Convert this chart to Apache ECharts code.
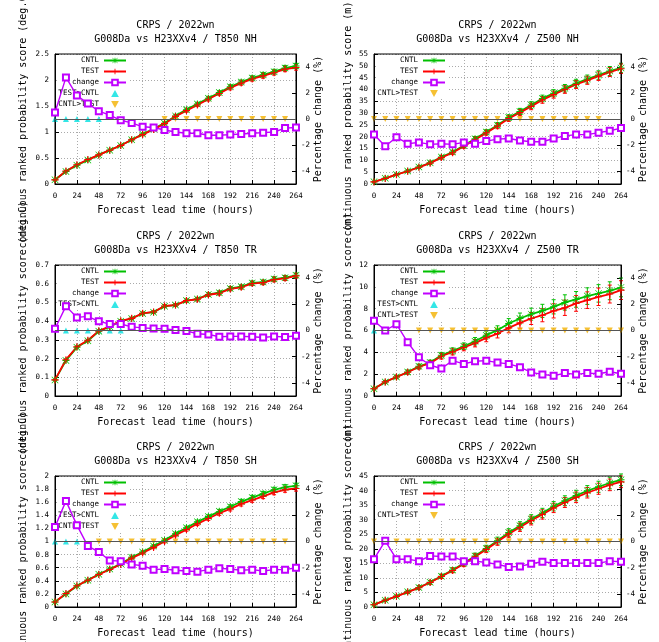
<!DOCTYPE html>
<html>
<head>
<meta charset="utf-8">
<script src="https://cdn.jsdelivr.net/npm/echarts@6/dist/echarts.min.js"></script>
<style>
html,body{margin:0;padding:0;background:#fff;}
#main{width:659px;height:642px;}
</style>
</head>
<body>
<div id="main"></div>
<script>
// forecast lead times (hours)
var lead = [0,12,24,36,48,60,72,84,96,108,120,132,144,156,168,180,192,204,216,228,240,252,264];

// T850 NH
var t850nhCntl = [0.08,0.24,0.36,0.46,0.56,0.65,0.74,0.85,0.96,1.06,1.17,1.31,1.43,1.54,1.65,1.76,1.87,1.96,2.04,2.10,2.16,2.23,2.27];
var t850nhTest = [0.08,0.25,0.37,0.47,0.56,0.65,0.74,0.85,0.95,1.05,1.16,1.30,1.41,1.52,1.63,1.74,1.85,1.94,2.02,2.08,2.14,2.21,2.24];
var t850nhChange = [0.5,3.2,1.8,1.2,0.6,0.3,-0.1,-0.3,-0.6,-0.65,-0.85,-1.0,-1.1,-1.1,-1.25,-1.25,-1.2,-1.15,-1.1,-1.05,-1.0,-0.7,-0.65];
var t850nhErr = [0.005,0.01,0.01,0.012,0.015,0.015,0.02,0.02,0.022,0.025,0.025,0.03,0.03,0.032,0.035,0.035,0.04,0.04,0.042,0.045,0.045,0.05,0.05];
var t850nhUp = [0,12,24,36,48];
var t850nhDown = [120,132,144,156,168,180,192,204,216,228,240,252];

// Z500 NH
var z500nhCntl = [0.9,2.4,4.0,5.5,7.2,9.0,11.4,13.5,16.3,19.1,22.0,24.9,28.1,30.7,33.4,36.2,38.4,40.5,42.6,44.4,46.1,47.8,49.1];
var z500nhTest = [0.89,2.35,3.94,5.40,7.07,8.83,11.18,13.24,16.01,18.74,21.63,24.51,27.68,30.21,32.83,35.58,37.82,39.97,42.09,43.87,45.62,47.37,48.76];
var z500nhChange = [-1.2,-2.1,-1.4,-1.9,-1.8,-1.95,-1.9,-1.95,-1.8,-1.9,-1.7,-1.55,-1.5,-1.65,-1.75,-1.75,-1.5,-1.3,-1.2,-1.2,-1.05,-0.9,-0.7];
var z500nhErr = [0.2,0.3,0.4,0.5,0.5,0.6,0.7,0.8,0.9,1.0,1.0,1.1,1.2,1.3,1.4,1.4,1.5,1.6,1.7,1.7,1.8,1.9,2.0];
var z500nhUp = [];
var z500nhDown = [0,12,24,36,48,60,72,84,96,108,120,132,144,156,168,180,192,204,216,228,240];

// T850 TR
var t850trCntl = [0.086,0.19,0.26,0.295,0.346,0.37,0.40,0.414,0.441,0.448,0.48,0.486,0.51,0.518,0.543,0.552,0.575,0.584,0.604,0.609,0.625,0.632,0.645];
var t850trTest = [0.086,0.194,0.263,0.298,0.348,0.372,0.402,0.415,0.442,0.449,0.481,0.486,0.51,0.517,0.541,0.549,0.572,0.581,0.601,0.606,0.622,0.629,0.642];
var t850trChange = [0.13,1.86,1.0,1.08,0.7,0.5,0.5,0.28,0.2,0.15,0.13,0.03,-0.03,-0.25,-0.3,-0.48,-0.45,-0.45,-0.48,-0.53,-0.45,-0.5,-0.4];
var t850trErr = [0.002,0.003,0.004,0.004,0.005,0.005,0.006,0.006,0.007,0.007,0.008,0.008,0.008,0.009,0.009,0.01,0.01,0.01,0.011,0.011,0.012,0.012,0.012];
var t850trUp = [12,24,36,48,60,72];
var t850trDown = [];

// Z500 TR
var z500trCntl = [0.67,1.29,1.74,2.2,2.72,3.06,3.73,4.13,4.56,5.02,5.57,6.03,6.64,7.1,7.5,7.8,8.17,8.57,8.85,9.15,9.4,9.64,9.95];
var z500trTest = [0.67,1.29,1.74,2.17,2.66,3.0,3.64,4.04,4.44,4.84,5.33,5.72,6.24,6.7,7.1,7.4,7.8,8.08,8.48,8.78,9.09,9.34,9.7];
var z500trChange = [0.75,0.0,0.48,-0.9,-2.05,-2.65,-2.9,-2.3,-2.55,-2.35,-2.3,-2.45,-2.55,-2.8,-3.2,-3.35,-3.45,-3.25,-3.35,-3.25,-3.3,-3.15,-3.3];
var z500trErr = [0.08,0.12,0.15,0.18,0.2,0.22,0.26,0.28,0.3,0.34,0.36,0.4,0.45,0.5,0.55,0.6,0.65,0.7,0.72,0.76,0.8,0.82,0.86];
var z500trUp = [0];
var z500trDown = [48,60,72,84,96,108,120,132,144,156,168,180,192,204,216,228,240,252,264];

// T850 SH
var t850shCntl = [0.076,0.2,0.32,0.41,0.5,0.58,0.66,0.76,0.84,0.93,1.02,1.12,1.21,1.30,1.38,1.46,1.53,1.61,1.67,1.73,1.79,1.83,1.85];
var t850shTest = [0.077,0.206,0.324,0.408,0.496,0.572,0.65,0.747,0.824,0.91,0.999,1.095,1.182,1.27,1.351,1.431,1.498,1.575,1.633,1.69,1.751,1.79,1.81];
var t850shChange = [1.1,3.1,1.25,-0.35,-0.8,-1.45,-1.5,-1.75,-1.85,-2.15,-2.1,-2.2,-2.25,-2.3,-2.15,-2.05,-2.1,-2.2,-2.15,-2.25,-2.15,-2.15,-2.0];
var t850shErr = [0.004,0.006,0.008,0.01,0.012,0.013,0.015,0.016,0.018,0.02,0.021,0.023,0.025,0.027,0.028,0.03,0.031,0.033,0.034,0.035,0.037,0.038,0.04];
var t850shUp = [0,12,24];
var t850shDown = [48,60,72,84,96,108,120,132,144,156,168,180,192,204,216,228,240,252];

// Z500 SH
var z500shCntl = [0.8,2.3,3.7,5.2,6.7,8.5,10.6,12.7,15.0,17.5,20.1,22.8,25.6,27.9,30.2,32.3,34.6,36.5,38.3,39.9,41.3,42.6,43.7];
var z500shTest = [0.79,2.3,3.65,5.13,6.6,8.41,10.48,12.55,14.78,17.24,19.78,22.39,25.1,27.37,29.69,31.8,34.03,35.9,37.67,39.25,40.62,41.96,43.0];
var z500shChange = [-1.35,0.05,-1.35,-1.35,-1.5,-1.1,-1.15,-1.15,-1.5,-1.5,-1.6,-1.75,-1.95,-1.9,-1.7,-1.55,-1.65,-1.65,-1.65,-1.65,-1.65,-1.5,-1.55];
var z500shErr = [0.2,0.3,0.4,0.5,0.6,0.6,0.7,0.8,0.9,1.0,1.1,1.2,1.3,1.4,1.5,1.6,1.6,1.7,1.8,1.8,1.9,2.0,2.0];
var z500shUp = [];
var z500shDown = [0,24,36,48,60,72,84,96,108,120,132,144,156,168,180,192,204,216,228,240,252,264];

var FONT = 'DejaVu Sans Mono';
var C_CNTL = '#00c000', C_TEST = '#ff0000', C_CHG = '#c000ff', C_UP = '#00e0e0', C_DN = '#f2b000';
// gnuplot-like point types
var SYM_STAR = 'path://M4.3,0H5.7V4.3H10V5.7H5.7V10H4.3V5.7H0V4.3H4.3Z M0.7,0L10,9.3L9.3,10L0,0.7Z M9.3,0L10,0.7L0.7,10L0,9.3Z';
var SYM_PLUS = 'path://M4.2,0H5.8V4.2H10V5.8H5.8V10H4.2V5.8H0V4.2H4.2Z';
var SYM_UP = 'path://M5,0L10,9L0,9Z';
var SYM_DOWN = 'path://M0,0L10,0L5,9Z';

var panels = [
  {area:'T850 NH', unit:'deg.C', ymax:2.5, yint:0.5, cntl:t850nhCntl, test:t850nhTest, chg:t850nhChange, err:t850nhErr, up:t850nhUp, down:t850nhDown,
   g:{left:55, top:54, width:241, height:130}, gapL:27, gapR:16, legRight:530},
  {area:'Z500 NH', unit:'m', ymax:55, yint:5, cntl:z500nhCntl, test:z500nhTest, chg:z500nhChange, err:z500nhErr, up:z500nhUp, down:z500nhDown,
   g:{left:374, top:54, width:247, height:130}, gapL:21, gapR:15, legRight:211},
  {area:'T850 TR', unit:'deg.C', ymax:0.7, yint:0.1, cntl:t850trCntl, test:t850trTest, chg:t850trChange, err:t850trErr, up:t850trUp, down:t850trDown,
   g:{left:55, top:265, width:241, height:131}, gapL:27, gapR:16, legRight:530},
  {area:'Z500 TR', unit:'m', ymax:12, yint:2, cntl:z500trCntl, test:z500trTest, chg:z500trChange, err:z500trErr, up:z500trUp, down:z500trDown,
   g:{left:374, top:265, width:247, height:131}, gapL:21, gapR:15, legRight:211},
  {area:'T850 SH', unit:'deg.C', ymax:2, yint:0.2, cntl:t850shCntl, test:t850shTest, chg:t850shChange, err:t850shErr, up:t850shUp, down:t850shDown,
   g:{left:55, top:476, width:241, height:131}, gapL:27, gapR:16, legRight:530},
  {area:'Z500 SH', unit:'m', ymax:45, yint:5, cntl:z500shCntl, test:z500shTest, chg:z500shChange, err:z500shErr, up:z500shUp, down:z500shDown,
   g:{left:374, top:476, width:247, height:131}, gapL:21, gapR:15, legRight:211}
];

function errSeries(i, vals, err, color) {
  return {
    type:'custom', name:'err', xAxisIndex:i, yAxisIndex:2*i, silent:true,
    data: lead.map(function(x,k){ return [x, vals[k], err[k]]; }),
    encode:{x:0, y:1},
    renderItem:function(params, api){
      var x = api.value(0), y = api.value(1), e = api.value(2);
      var hi = api.coord([x, y+e]), lo = api.coord([x, y-e]);
      var st = {stroke:color, lineWidth:1};
      return {type:'group', children:[
        {type:'line', shape:{x1:hi[0], y1:hi[1], x2:lo[0], y2:lo[1]}, style:st},
        {type:'line', shape:{x1:hi[0]-2, y1:hi[1], x2:hi[0]+2, y2:hi[1]}, style:st},
        {type:'line', shape:{x1:lo[0]-2, y1:lo[1], x2:lo[0]+2, y2:lo[1]}, style:st}
      ]};
    }
  };
}

var option = {
  backgroundColor:'#fff',
  animation:false,
  textStyle:{fontFamily:FONT},
  title:[], grid:[], xAxis:[], yAxis:[], legend:[], series:[]
};

panels.forEach(function(p, i){
  var g = p.g;
  option.grid.push({left:g.left, top:g.top, width:g.width, height:g.height, show:true,
    outerBoundsMode:'none', containLabel:false,
    borderColor:'#000', borderWidth:1, backgroundColor:'transparent', z:3});
  option.title.push({
    text:'CRPS / 2022wn\nG008Da vs H23XXv4 / ' + p.area,
    left:g.left + g.width/2, top:g.top - 36, textAlign:'center', padding:0,
    textStyle:{fontFamily:FONT, fontSize:10, fontWeight:'normal', color:'#000', lineHeight:14}
  });
  option.xAxis.push({
    gridIndex:i, type:'value', min:0, max:264, interval:24,
    name:'Forecast lead time (hours)', nameLocation:'middle', nameGap:21,
    nameTextStyle:{fontFamily:FONT, fontSize:10, color:'#000'},
    axisLine:{show:true, lineStyle:{color:'#000', width:1}},
    axisTick:{inside:true, length:4, lineStyle:{color:'#000'}},
    axisLabel:{fontFamily:FONT, fontSize:7.5, color:'#000', margin:8},
    splitLine:{show:true, lineStyle:{color:'#aaa', width:1, type:[1,2]}}
  });
  option.yAxis.push({
    gridIndex:i, type:'value', min:0, max:p.ymax, interval:p.yint, position:'left',
    name:'continuous ranked probability score (' + p.unit + ')', nameLocation:'middle', nameGap:p.gapL,
    nameTextStyle:{fontFamily:FONT, fontSize:10, color:'#000'},
    axisLine:{show:true, lineStyle:{color:'#000', width:1}},
    axisTick:{inside:true, length:4, lineStyle:{color:'#000'}},
    axisLabel:{fontFamily:FONT, fontSize:7.5, color:'#000', margin:6},
    splitLine:{show:true, lineStyle:{color:'#aaa', width:1, type:[1,2]}}
  });
  option.yAxis.push({
    gridIndex:i, type:'value', min:-5, max:5, position:'right',
    name:'Percentage change (%)', nameLocation:'middle', nameGap:p.gapR,
    nameTextStyle:{fontFamily:FONT, fontSize:10, color:'#000'},
    axisLine:{show:true, lineStyle:{color:'#000', width:1}},
    axisTick:{inside:true, length:4, lineStyle:{color:'#000'}, customValues:[-4,-2,0,2,4]},
    axisLabel:{fontFamily:FONT, fontSize:7.5, color:'#000', margin:14, align:'right', customValues:[-4,-2,0,2,4]},
    splitLine:{show:false}
  });

  var names = ['CNTL','TEST','change'];
  if (p.up.length) names.push('TEST>CNTL');
  if (p.down.length) names.push('CNTL>TEST');
  option.legend.push({
    orient:'vertical', align:'right', right:p.legRight, top:g.top + 1,
    itemWidth:22, itemHeight:7, itemGap:2, padding:[1,2,1,2], symbolKeepAspect:true,
    backgroundColor:'#fff', z:1, selectedMode:false,
    textStyle:{fontFamily:FONT, fontSize:7.5, color:'#000', lineHeight:9},
    data:names
  });

  option.series.push(errSeries(i, p.cntl, p.err, C_CNTL));
  option.series.push({
    name:'CNTL', type:'line', xAxisIndex:i, yAxisIndex:2*i,
    data:lead.map(function(x,k){ return [x, p.cntl[k]]; }),
    symbol:SYM_STAR, symbolSize:7, showAllSymbol:true,
    lineStyle:{color:C_CNTL, width:1.8}, itemStyle:{color:C_CNTL}
  });
  option.series.push(errSeries(i, p.test, p.err, C_TEST));
  option.series.push({
    name:'TEST', type:'line', xAxisIndex:i, yAxisIndex:2*i,
    data:lead.map(function(x,k){ return [x, p.test[k]]; }),
    symbol:SYM_PLUS, symbolSize:7, showAllSymbol:true,
    lineStyle:{color:C_TEST, width:1.8}, itemStyle:{color:C_TEST}
  });
  option.series.push({
    name:'change', type:'line', xAxisIndex:i, yAxisIndex:2*i+1,
    data:lead.map(function(x,k){ return [x, p.chg[k]]; }),
    symbol:'emptyRect', symbolSize:6, showAllSymbol:true,
    lineStyle:{color:C_CHG, width:1.4}, itemStyle:{color:C_CHG, borderWidth:1.1},
    markLine:{silent:true, symbol:'none', label:{show:false},
      lineStyle:{color:'#555', width:1.2, type:'solid'}, data:[{yAxis:0}]}
  });
  option.series.push({
    name:'TEST>CNTL', type:'scatter', xAxisIndex:i, yAxisIndex:2*i+1,
    data:p.up.map(function(x){ return [x, 0]; }),
    symbol:SYM_UP, symbolSize:6, itemStyle:{color:C_UP}
  });
  option.series.push({
    name:'CNTL>TEST', type:'scatter', xAxisIndex:i, yAxisIndex:2*i+1,
    data:p.down.map(function(x){ return [x, 0]; }),
    symbol:SYM_DOWN, symbolSize:6, itemStyle:{color:C_DN}
  });
});

var chartDom = document.getElementById('main');
var myChart = echarts.init(chartDom);
myChart.setOption(option);
</script>
</body>
</html>
